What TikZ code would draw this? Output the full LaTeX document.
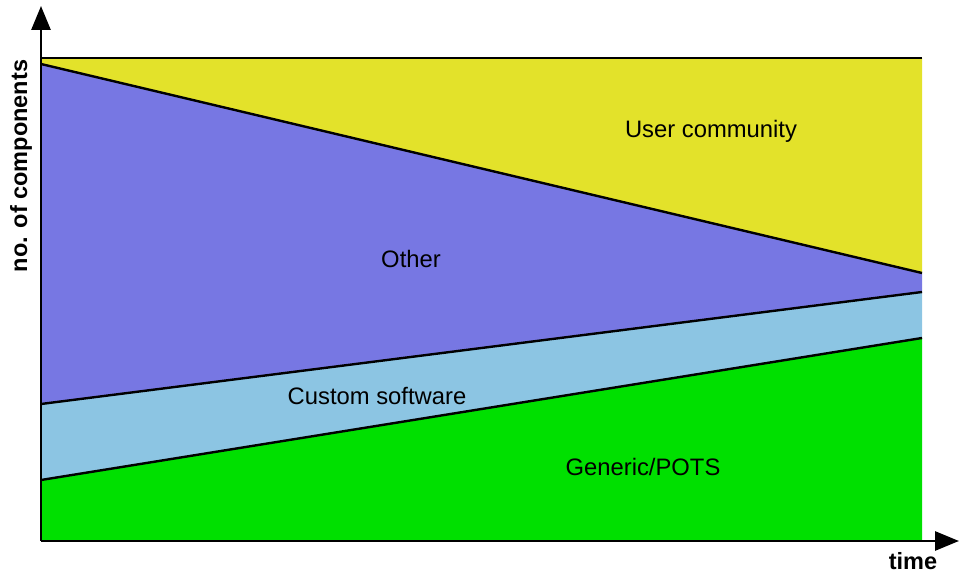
\documentclass[tikz,border=0pt]{standalone}
\usepackage{fontspec}
\setmainfont{Liberation Sans}
\usetikzlibrary{arrows.meta}
\definecolor{usercol}{HTML}{E3E22A}
\definecolor{othercol}{HTML}{7777E3}
\definecolor{customcol}{HTML}{8CC5E3}
\definecolor{genericcol}{HTML}{00E000}
\tikzset{
  axis/.style={line width=2.8pt, -{Triangle[length=24pt,width=19pt]}},
  border/.style={line width=2.4pt, black},
  lbl/.style={font=\fontsize{23.8}{28}\selectfont, inner sep=0pt},
  axlbl/.style={font=\fontsize{23.5}{28}\selectfont\bfseries, inner sep=0pt}
}
\begin{document}
\begin{tikzpicture}[x=1pt,y=1pt]
\useasboundingbox (0,0) rectangle (959,573);
% corner points of the bands
\coordinate (o)  at (41,32);
\coordinate (br) at (922,32);
\coordinate (tl) at (41,515);
\coordinate (tr) at (922,515);
\coordinate (ul) at (41,509);
\coordinate (ur) at (922,300);
\coordinate (ml) at (41,169);
\coordinate (mr) at (922,281);
\coordinate (ll) at (41,93);
\coordinate (lr) at (922,235);
\coordinate (ytip) at (41,567);
\coordinate (xtip) at (959,32);
% bands
\fill[usercol]    (tl) -- (tr) -- (ur) -- (ul) -- cycle;
\fill[othercol]   (ul) -- (ur) -- (mr) -- (ml) -- cycle;
\fill[customcol]  (ml) -- (mr) -- (lr) -- (ll) -- cycle;
\fill[genericcol] (ll) -- (lr) -- (br) -- (o) -- cycle;
% band borders
\draw[border] (tl) -- (tr);
\draw[border] (ul) -- (ur);
\draw[border] (ml) -- (mr);
\draw[border] (ll) -- (lr);
% axes
\draw[axis] (o) -- (ytip);
\draw[axis] (o) -- (xtip);
% labels
\node[lbl] (user) at (711,442) {User community};
\node[lbl] (other) at (411,314) {Other};
\node[lbl] (custom) at (377,177) {Custom software};
\node[lbl] (generic) at (643,106) {Generic/POTS};
\node[axlbl, rotate=90] (ylab) at (21,407) {no. of components};
\node[axlbl] (xlab) at (913,12) {time};
\end{tikzpicture}
\end{document}
